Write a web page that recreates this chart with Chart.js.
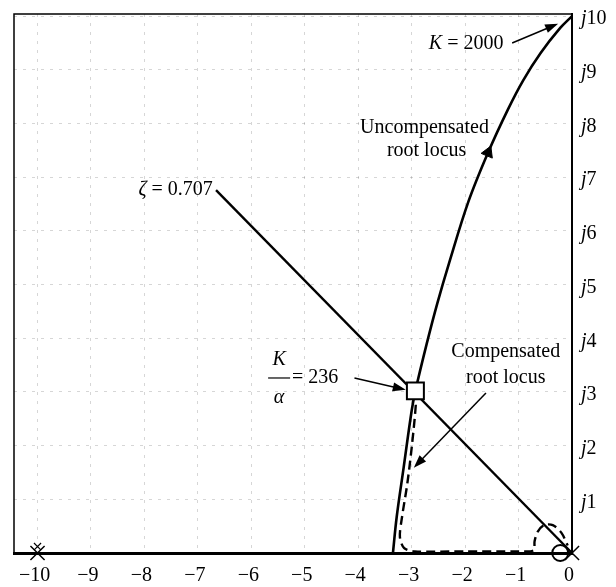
<!DOCTYPE html>
<html>
<head>
<meta charset="utf-8">
<script src="https://cdn.jsdelivr.net/npm/chart.js@4.4.1/dist/chart.umd.min.js"></script>
<style>
  html, body { margin: 0; padding: 0; background: #fff; }
</style>
</head>
<body>
<canvas id="rl" width="616" height="587"></canvas>
<script>
// axis ticks
var xTicks = [-10, -9, -8, -7, -6, -5, -4, -3, -2, -1, 0];
var xTickLabels = ['\u221210', '\u22129', '\u22128', '\u22127', '\u22126', '\u22125', '\u22124', '\u22123', '\u22122', '\u22121', '0'];
var yTicks = [1, 2, 3, 4, 5, 6, 7, 8, 9, 10];
var yTickLabels = ['1', '2', '3', '4', '5', '6', '7', '8', '9', '10']; // shown as j1 ... j10

// uncompensated root locus (upper branch)
var uncompSigma = [-3.35, -3.28, -3.15, -3.0, -2.93, -2.72, -2.52, -2.30, -1.94, -1.57, -1.20, -0.91, -0.59, -0.22, 0];
var uncompOmega = [0, 0.67, 1.59, 2.65, 3.02, 3.89, 4.65, 5.40, 6.54, 7.46, 8.26, 8.81, 9.31, 9.78, 10.0];

// compensated root locus (dashed)
var compSigma = [-2.93, -2.92, -2.99, -3.08, -3.18, -3.22, -3.14, -2.94, -2.0, -1.0, -0.72, -0.70, -0.64, -0.52, -0.36, -0.20, -0.08];
var compOmega = [3.02, 2.80, 2.05, 1.30, 0.67, 0.30, 0.09, 0.03, 0.03, 0.03, 0.05, 0.22, 0.40, 0.52, 0.52, 0.38, 0.14];

// zeta = 0.707 line
var zetaSigma = [-6.66, 0];
var zetaOmega = [6.76, 0];

// open-loop poles and zero, design point
var poleSigma = [-10, 0];
var zeroSigma = [-0.22];
var designSigma = [-2.93];
var designOmega = [3.02];
var uncompArrow = { x: -1.57, y: 7.46 };

function pts(xs, ys) {
  return xs.map(function (x, i) { return { x: x, y: ys[i] }; });
}

// annotation anchors in data units
var notes = {
  k2000: { x: -1.98, y: 9.48 },
  k2000From: { x: -1.12, y: 9.50 },
  k2000To: { x: -0.26, y: 9.86 },
  uncomp1: { x: -2.76, y: 7.93 },
  uncomp2: { x: -2.72, y: 7.50 },
  zeta: { x: -6.72, y: 6.76 },
  fracK: { x: -5.48, y: 3.60 },
  fracBar: { x: -5.48, y: 3.26 },
  fracA: { x: -5.48, y: 2.90 },
  eq236: { x: -5.24, y: 3.26 },
  kaFrom: { x: -4.07, y: 3.26 },
  kaTo: { x: -3.11, y: 3.04 },
  comp1: { x: -1.24, y: 3.74 },
  comp2: { x: -1.24, y: 3.26 },
  compFrom: { x: -1.61, y: 2.98 },
  compTo: { x: -2.96, y: 1.59 }
};

var FONT = '"Liberation Serif", "Times New Roman", serif';
var FS = 20;

function rich(ctx, parts, x, y, align) {
  var w = 0;
  parts.forEach(function (p) {
    ctx.font = (p[1] ? 'italic ' : '') + FS + 'px ' + FONT;
    w += ctx.measureText(p[0]).width;
  });
  var sx = align === 'center' ? x - w / 2 : (align === 'right' ? x - w : x);
  ctx.textAlign = 'left';
  ctx.textBaseline = 'middle';
  parts.forEach(function (p) {
    ctx.font = (p[1] ? 'italic ' : '') + FS + 'px ' + FONT;
    ctx.fillText(p[0], sx, y);
    sx += ctx.measureText(p[0]).width;
  });
}

function arrow(ctx, x1, y1, x2, y2) {
  var a = Math.atan2(y2 - y1, x2 - x1), L = 13, W = 4.5;
  ctx.beginPath();
  ctx.moveTo(x1, y1);
  ctx.lineTo(x2 - L * 0.8 * Math.cos(a), y2 - L * 0.8 * Math.sin(a));
  ctx.lineWidth = 1.5;
  ctx.stroke();
  ctx.beginPath();
  ctx.moveTo(x2, y2);
  ctx.lineTo(x2 - L * Math.cos(a) + W * Math.sin(a), y2 - L * Math.sin(a) - W * Math.cos(a));
  ctx.lineTo(x2 - L * Math.cos(a) - W * Math.sin(a), y2 - L * Math.sin(a) + W * Math.cos(a));
  ctx.closePath();
  ctx.fill();
}

var decor = {
  id: 'decor',
  beforeDatasetsDraw: function (chart) {
    var ctx = chart.ctx, a = chart.chartArea;
    ctx.save();
    ctx.strokeStyle = '#000';
    ctx.lineWidth = 1.5;
    ctx.beginPath();
    ctx.moveTo(a.left, a.bottom);
    ctx.lineTo(a.left, a.top);
    ctx.lineTo(a.right, a.top);
    ctx.stroke();
    ctx.restore();
  },
  afterDatasetsDraw: function (chart) {
    var ctx = chart.ctx, xs = chart.scales.x, ys = chart.scales.y, a = chart.chartArea;
    function P(n) { return { x: xs.getPixelForValue(n.x), y: ys.getPixelForValue(n.y) }; }
    ctx.save();
    ctx.fillStyle = '#000';
    ctx.strokeStyle = '#000';

    // tick labels
    xTicks.forEach(function (v, i) {
      rich(ctx, [[xTickLabels[i], false]], xs.getPixelForValue(v) - 3, a.bottom + 23, 'center');
    });
    yTicks.forEach(function (v, i) {
      rich(ctx, [['j', true], [yTickLabels[i], false]], a.right + 9, ys.getPixelForValue(v) + 3, 'left');
    });

    // K = 2000
    var p = P(notes.k2000);
    rich(ctx, [['K', true], [' = 2000', false]], p.x, p.y, 'center');
    var f = P(notes.k2000From), t = P(notes.k2000To);
    arrow(ctx, f.x, f.y, t.x, t.y);

    // uncompensated label
    p = P(notes.uncomp1); rich(ctx, [['Uncompensated', false]], p.x, p.y, 'center');
    p = P(notes.uncomp2); rich(ctx, [['root locus', false]], p.x, p.y, 'center');

    // zeta
    p = P(notes.zeta);
    rich(ctx, [['\u03b6', true], [' = 0.707', false]], p.x, p.y, 'right');

    // K / alpha = 236
    p = P(notes.fracK); rich(ctx, [['K', true]], p.x, p.y, 'center');
    p = P(notes.fracA); rich(ctx, [['\u03b1', true]], p.x, p.y, 'center');
    p = P(notes.fracBar);
    ctx.lineWidth = 1.2;
    ctx.beginPath(); ctx.moveTo(p.x - 11, p.y); ctx.lineTo(p.x + 11, p.y); ctx.stroke();
    p = P(notes.eq236); rich(ctx, [['= 236', false]], p.x, p.y, 'left');
    f = P(notes.kaFrom); t = P(notes.kaTo);
    arrow(ctx, f.x, f.y, t.x, t.y);

    // compensated label
    p = P(notes.comp1); rich(ctx, [['Compensated', false]], p.x, p.y, 'center');
    p = P(notes.comp2); rich(ctx, [['root locus', false]], p.x, p.y, 'center');
    f = P(notes.compFrom); t = P(notes.compTo);
    arrow(ctx, f.x, f.y, t.x, t.y);

    ctx.restore();
  }
};

var ctx = document.getElementById('rl').getContext('2d');
var chart = new Chart(ctx, {
  type: 'scatter',
  data: {
    datasets: [
      {
        label: 'design point',
        data: pts(designSigma, designOmega),
        pointStyle: 'rect', pointRadius: 12,
        backgroundColor: '#fff', borderColor: '#000', borderWidth: 2,
        clip: false, order: 0
      },
      {
        label: 'poles',
        data: pts(poleSigma, [0, 0]),
        pointStyle: 'crossRot', pointRadius: 10,
        borderColor: '#000', borderWidth: 1.5,
        clip: false, order: 1
      },
      {
        label: 'double pole',
        data: pts([poleSigma[0]], [0.12]),
        pointStyle: 'crossRot', pointRadius: 5,
        borderColor: '#000', borderWidth: 1.2,
        clip: false, order: 1
      },
      {
        label: 'zero',
        data: pts(zeroSigma, [0]),
        pointStyle: 'circle', pointRadius: 8,
        backgroundColor: 'rgba(0,0,0,0)', borderColor: '#000', borderWidth: 2,
        clip: false, order: 1
      },
      {
        label: 'direction',
        data: [uncompArrow],
        pointStyle: 'triangle', pointRadius: 7, rotation: 23,
        backgroundColor: '#000', borderColor: '#000', borderWidth: 1,
        clip: false, order: 1
      },
      {
        label: 'Uncompensated',
        data: pts(uncompSigma, uncompOmega),
        showLine: true, pointRadius: 0, tension: 0.35,
        borderColor: '#000', borderWidth: 2.6,
        clip: false, order: 2
      },
      {
        label: 'Compensated',
        data: pts(compSigma, compOmega),
        showLine: true, pointRadius: 0, tension: 0.3,
        borderColor: '#000', borderWidth: 2.4, borderDash: [9, 5],
        clip: false, order: 2
      },
      {
        label: 'zeta',
        data: pts(zetaSigma, zetaOmega),
        showLine: true, pointRadius: 0,
        borderColor: '#000', borderWidth: 2.4,
        clip: false, order: 2
      }
    ]
  },
  options: {
    responsive: false,
    animation: false,
    events: [],
    layout: { padding: { left: 8, top: 11, right: 44, bottom: 34 } },
    plugins: { legend: { display: false }, tooltip: { enabled: false } },
    scales: {
      x: {
        type: 'linear', min: -10.44, max: 0,
        ticks: { display: false, stepSize: 1, includeBounds: false },
        grid: { color: 'rgba(0,0,0,0.16)', lineWidth: 1, drawTicks: false },
        border: { display: true, color: '#000', width: 3, dash: [3, 6] },
        afterFit: function (s) { s.height = 0; }
      },
      y: {
        type: 'linear', position: 'right', min: 0, max: 10.04,
        ticks: { display: false, stepSize: 1, includeBounds: false },
        grid: { color: 'rgba(0,0,0,0.16)', lineWidth: 1, drawTicks: false },
        border: { display: true, color: '#000', width: 2, dash: [3, 6] },
        afterFit: function (s) { s.width = 0; }
      }
    }
  },
  plugins: [decor]
});
</script>
</body>
</html>
